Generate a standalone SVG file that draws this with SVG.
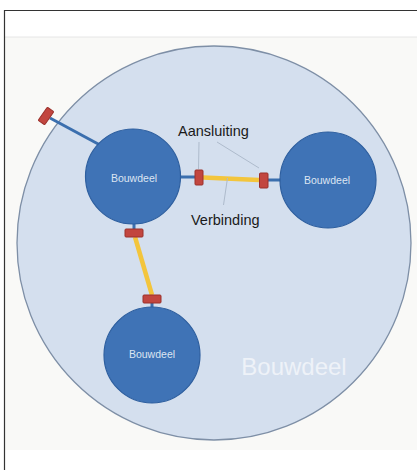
<svg xmlns="http://www.w3.org/2000/svg" width="417" height="470" viewBox="0 0 417 470">
<style>
.node{fill:#3f73b6;stroke:#2e5f9f;stroke-width:1.2}
.nt{font-family:"Liberation Sans",Arial,sans-serif;font-size:10.5px;fill:#dce5f2;text-anchor:middle}
.lbl{font-family:"Liberation Sans",Arial,sans-serif;font-size:14.5px;fill:#1a1a1a}
.blue{stroke:#3b6fae;stroke-width:3;fill:none}
.yel{stroke:#f3c53c;stroke-width:4.5;fill:none}
.red{fill:#c2463f;stroke:#9b302b;stroke-width:1}
.lead{stroke:#aebbcc;stroke-width:1;fill:none}
</style>
<rect x="0" y="0" width="417" height="470" fill="#ffffff"/>
<rect x="5" y="37" width="412" height="413" fill="#f9f9f7"/>
<line x1="5" y1="37" x2="417" y2="37" stroke="#e6e6e6" stroke-width="1"/>
<path d="M4.5 470 V10.5 H417" fill="none" stroke="#333333" stroke-width="1.2"/>
<g id="container">
<circle cx="214" cy="243" r="197" fill="#d4dfee" stroke="#7e8fa6" stroke-width="1.3"/>
<text x="294" y="375" font-family="Liberation Sans,Arial,sans-serif" font-size="24" fill="#eef2f8" text-anchor="middle">Bouwdeel</text>
</g>
<g id="connectors">
<line class="blue" x1="50" y1="118" x2="100" y2="145"/>
<line class="blue" x1="180" y1="177" x2="198" y2="177"/>
<line class="blue" x1="264" y1="180" x2="282" y2="180"/>
<line class="yel" x1="203" y1="177.5" x2="259" y2="180"/>
<line class="blue" x1="134" y1="222" x2="134" y2="230"/>
<line class="yel" x1="135" y1="237" x2="152" y2="295"/>
<line class="blue" x1="152" y1="302" x2="152" y2="309"/>
<rect class="red" x="195" y="170" width="8" height="15" rx="1"/>
<rect class="red" x="259.5" y="173" width="8.5" height="15" rx="1"/>
<rect class="red" x="125" y="229" width="18" height="8" rx="1"/>
<rect class="red" x="143" y="295" width="18" height="8" rx="1"/>
<rect class="red" x="42" y="108" width="8" height="16" rx="1" transform="rotate(35 46 116)"/>
<line class="lead" x1="199" y1="142" x2="198.5" y2="169"/>
<line class="lead" x1="217" y1="142" x2="259" y2="168"/>
<line class="lead" x1="227.5" y1="178" x2="223.5" y2="205"/>
</g>
<g id="node1">
<circle class="node" cx="133" cy="176.5" r="47.5"/>
<text class="nt" x="134" y="182">Bouwdeel</text>
</g>
<g id="node2">
<circle class="node" cx="328" cy="180" r="48"/>
<text class="nt" x="327" y="184">Bouwdeel</text>
</g>
<g id="node3">
<circle class="node" cx="152" cy="355" r="48"/>
<text class="nt" x="152" y="358">Bouwdeel</text>
</g>
<g id="labels">
<text class="lbl" x="178" y="136">Aansluiting</text>
<text class="lbl" x="191" y="225">Verbinding</text>
</g>
</svg>
